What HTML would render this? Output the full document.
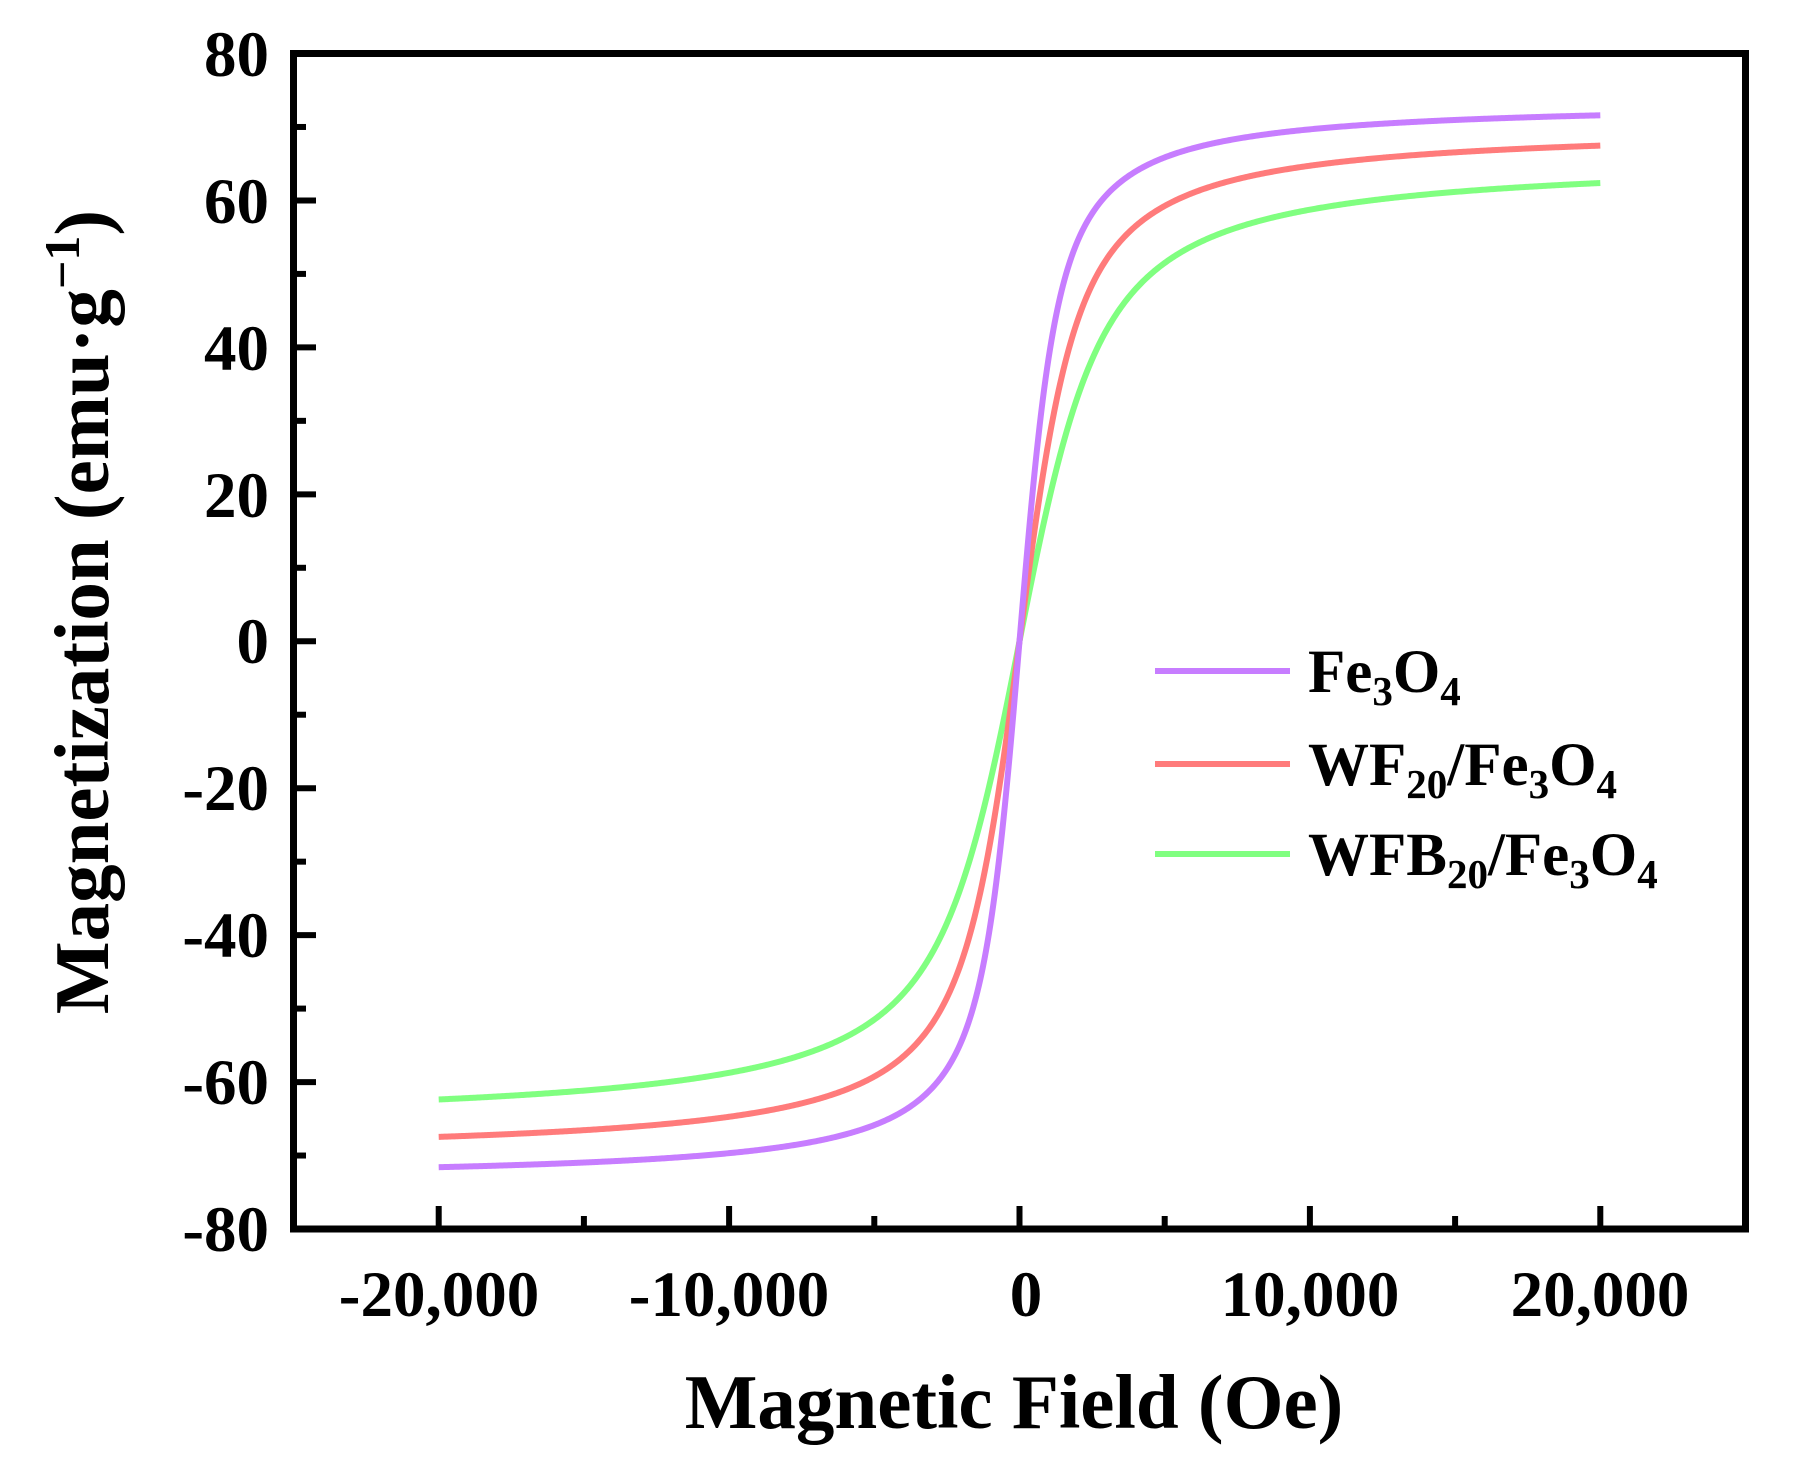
<!DOCTYPE html>
<html><head><meta charset="utf-8"><style>
html,body{margin:0;padding:0;background:#fff;}
svg{display:block;}
text{font-family:"Liberation Serif",serif;font-weight:bold;fill:#000;}
</style></head><body>
<svg id="s" width="1796" height="1473" viewBox="0 0 1796 1473" xmlns="http://www.w3.org/2000/svg">
<g id="curves"></g>
<rect x="293.5" y="53.5" width="1452" height="1175.5" fill="none" stroke="#000" stroke-width="7"/>
<g id="ticks" stroke="#000" stroke-width="6"></g>
<g font-size="65" text-anchor="end">
<text x="269" y="76">80</text>
<text x="269" y="223">60</text>
<text x="269" y="370">40</text>
<text x="269" y="517">20</text>
<text x="269" y="663">0</text>
<text x="269" y="810">-20</text>
<text x="269" y="957">-40</text>
<text x="269" y="1104">-60</text>
<text x="269" y="1251">-80</text>
</g>
<g font-size="65" text-anchor="middle">
<text x="439" y="1316">-20,000</text>
<text x="729" y="1316">-10,000</text>
<text x="1026" y="1316">0</text>
<text x="1310" y="1316">10,000</text>
<text x="1600" y="1316">20,000</text>
</g>
<text x="1014" y="1428" font-size="77" text-anchor="middle">Magnetic Field (Oe)</text>
<text transform="translate(108,612) rotate(-90)" font-size="77" text-anchor="middle">Magnetization (emu·g<tspan dy="-29" font-size="50">−1</tspan><tspan dy="29">)</tspan></text>
<line x1="1155" y1="671" x2="1290" y2="671" stroke="#c77dff" stroke-width="6"/>
<line x1="1155" y1="764" x2="1290" y2="764" stroke="#ff7b7b" stroke-width="6"/>
<line x1="1155" y1="854" x2="1290" y2="854" stroke="#80ff80" stroke-width="6"/>
<g font-size="61">
<text x="1308" y="692">Fe<tspan font-size="41" dy="13">3</tspan><tspan dy="-13">O</tspan><tspan font-size="41" dy="13">4</tspan></text>
<text x="1308" y="785">WF<tspan font-size="41" dy="13">20</tspan><tspan dy="-13">/Fe</tspan><tspan font-size="41" dy="13">3</tspan><tspan dy="-13">O</tspan><tspan font-size="41" dy="13">4</tspan></text>
<text x="1308" y="875">WFB<tspan font-size="41" dy="13">20</tspan><tspan dy="-13">/Fe</tspan><tspan font-size="41" dy="13">3</tspan><tspan dy="-13">O</tspan><tspan font-size="41" dy="13">4</tspan></text>
</g>
</svg>
<script>
var X0=293.5,Y0=641.25,sx=1452/50000,sy=1175.5/160;
function L(x){if(Math.abs(x)<1e-4)return x/3;return 1/Math.tanh(x)-1/x;}
var series=[[73.5,520,"#c77dff"],[70.2,780,"#ff7b7b"],[66,1100,"#80ff80"]];
var g=document.getElementById("curves"),ns="http://www.w3.org/2000/svg";
series.reverse().forEach(function(s){var d="";for(var i=0;i<=800;i++){var H=-20000+i*50;var M=s[0]*L(H/s[1]);d+=(i?"L":"M")+(X0+726+H*sx).toFixed(2)+" "+(Y0-M*sy).toFixed(2);}
var p=document.createElementNS(ns,"path");p.setAttribute("d",d);p.setAttribute("fill","none");p.setAttribute("stroke",s[2]);p.setAttribute("stroke-width","6");g.appendChild(p);});
var t=document.getElementById("ticks");
function ln(a,b,c,d){var l=document.createElementNS(ns,"line");l.setAttribute("x1",a);l.setAttribute("y1",b);l.setAttribute("x2",c);l.setAttribute("y2",d);t.appendChild(l);}
for(var v=-80;v<=80;v+=10){var y=Y0-v*sy;ln(293.5,y,(v%20==0)?316:306,y);}
for(var h=-25000;h<=25000;h+=5000){var x=X0+726+h*sx;ln(x,1229,x,(h%10000==0)?1206:1216);}
</script>
</body></html>
